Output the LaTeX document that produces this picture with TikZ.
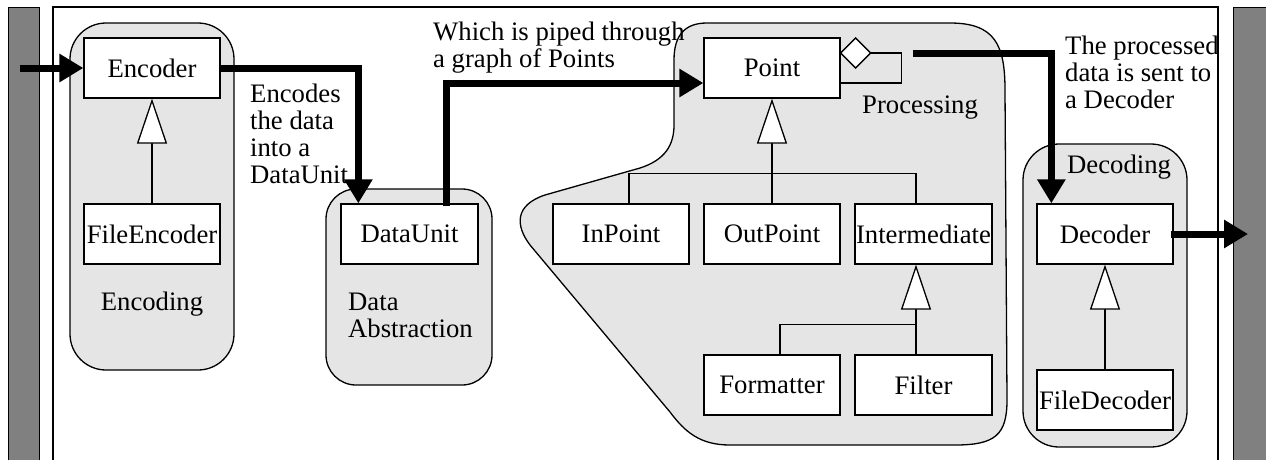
\documentclass[tikz,border=0pt]{standalone}
\usepackage{fontspec}
\setmainfont{Liberation Serif}
\usetikzlibrary{arrows.meta,calc}
\definecolor{groupfill}{HTML}{E5E5E5}
\definecolor{barfill}{HTML}{808080}
\begin{document}
\begin{tikzpicture}[x=1pt,y=-1pt,
  every node/.style={font=\fontsize{26.7pt}{26.8pt}\selectfont, inner sep=0pt},
  cls/.style={draw, fill=white, line width=1.3pt, minimum width=136pt, minimum height=60pt},
  grp/.style={draw, fill=groupfill, line width=1.3pt},
  thinline/.style={line width=1.3pt},
  inherit/.style={line width=1.3pt, -{Triangle[fill=white,length=45pt,width=30pt]}},
  flow/.style={line width=7pt, line join=miter, -{Triangle[length=24pt,width=27pt]}},
  lbl/.style={align=left, anchor=base west}
]
\clip (0,0) rectangle (1266,459);
% frame and side bars
\draw[thinline] (53,7) rectangle (1218,475);
\draw[fill=barfill, line width=1pt] (8,7) rectangle (39,475);
\draw[fill=barfill, line width=1pt] (1233,7) rectangle (1280,475);
% groups
\draw[grp, rounded corners=36pt] (70,23) rectangle (234,370);
\draw[grp, rounded corners=30pt] (326,189) rectangle (492,385);
\draw[grp, rounded corners=36pt] (1023,144) rectangle (1187,447);
\draw[grp] (707,23) -- (950,23) .. controls (995,23) and (1005,45) .. (1005,90)
  -- (1007,400) .. controls (1007,435) and (995,445) .. (955,445)
  -- (730,445) .. controls (700,445) and (685,432) .. (670,412)
  -- (530,245) .. controls (515,225) and (515,205) .. (545,195)
  -- (640,168) .. controls (665,160) and (674,145) .. (674,125)
  -- (674,60) .. controls (674,35) and (685,23) .. (707,23) -- cycle;
% labels (a multi-line node's base is its last line)
\node[anchor=base] (encoding) at (152,310) {Encoding};
\node[lbl] (dal) at (348,337) {Data\\Abstraction};
\node[anchor=base west] (procl) at (862,113) {Processing};
\node[anchor=base west] (decl) at (1067,173) {Decoding};
\node[lbl] (encl) at (250,183) {Encodes\\the data\\into a\\DataUnit};
\node[lbl] (wl) at (433,67) {Which is piped through\\a graph of Points};
\node[lbl] (tl) at (1065,108) {The processed\\data is sent to\\a Decoder};
% classes
\node[cls] (enc) at (152,68) {Encoder};
\node[cls] (fenc) at (152,234) {FileEncoder};
\node[cls, minimum width=137pt] (du) at (409.5,234) {DataUnit};
\node[cls] (pt) at (772,68) {Point};
\node[cls] (ip) at (621,234) {InPoint};
\node[cls] (op) at (772,234) {OutPoint};
\node[cls, minimum width=137pt] (im) at (923.5,234) {Intermediate};
\node[cls] (fo) at (772,385) {Formatter};
\node[cls, minimum width=137pt] (fi) at (923.5,385) {Filter};
\node[cls] (dec) at (1105,234) {Decoder};
\node[cls] (fdec) at (1105,400) {FileDecoder};
% inheritance
\draw[inherit] (fenc.north) -- (enc.south);
\draw[inherit] (op.north) -- (pt.south);
\draw[thinline] ($(ip.north)+(8,0)$) |- ($(im.north)+(-7.5,-30)$) -- ($(im.north)+(-7.5,0)$);
\draw[inherit] ($(fi.north)+(-7.5,0)$) -- ($(im.south)+(-7.5,0)$);
\draw[thinline] ($(fo.north)+(8,0)$) |- ($(fi.north)+(-7.5,-30)$);
\draw[inherit] (fdec.north) -- (dec.south);
% aggregation loop on Point
\draw[thinline, fill=white] ($(pt.east)+(0,-15)$) -- ++(15,-15) -- ++(15,15) -- ++(-15,15) -- cycle;
\draw[thinline] ($(pt.east)+(30,-15)$) -- ++(31,0) |- ($(pt.east)+(0,15)$);
% data flow
\coordinate (in) at (20,68);
\coordinate (out) at (1248,234);
\draw[flow] (in) -- (enc.west);
\draw[flow] (enc.east) -| ($(du.north west)+(18,0)$);
\draw[flow] ($(du.north)+(36.5,3)$) |- ($(pt.west)+(0,15)$);
\draw[flow] ($(pt.east)+(72,-15)$) -| ($(dec.north west)+(15,0)$);
\draw[flow] ($(dec.east)+(-3,0)$) -- (out);
\end{tikzpicture}
\end{document}
